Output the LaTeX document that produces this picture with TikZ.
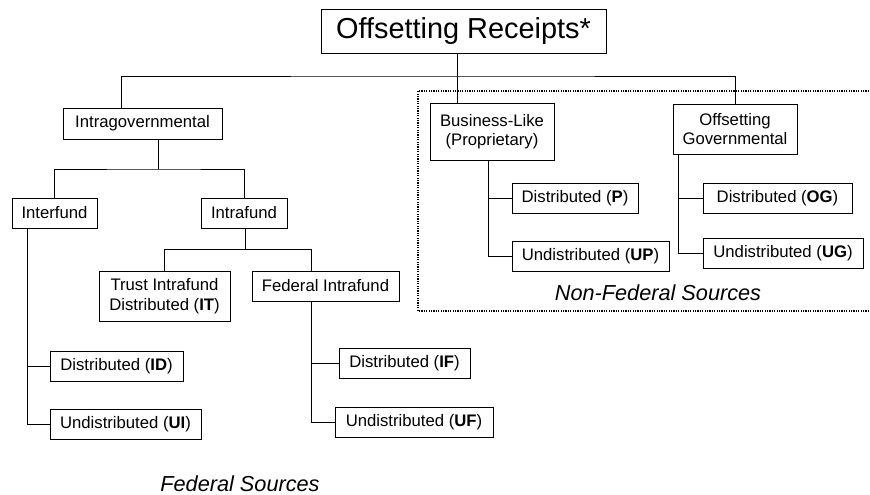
\documentclass[tikz,border=0pt]{standalone}
\usepackage{fontspec}
\setmainfont{Liberation Sans}
\begin{document}
\begin{tikzpicture}[x=1pt,y=-1pt,
  bx/.style={draw=black, line width=0.9pt, inner sep=0pt, align=center,
    font=\fontsize{16.7}{19.5}\selectfont},
  ln/.style={draw=black, line width=0.9pt},
  srclabel/.style={font=\fontsize{21.7}{24}\selectfont\itshape, inner sep=0pt},
  dotbox/.style={draw=black, line width=1.1pt, dash pattern=on 1.2pt off 1.2pt}]
\useasboundingbox (0,0) rectangle (870,495);
% boxes
\node[bx, minimum width=285, minimum height=44, font=\fontsize{28.9}{32}\selectfont] (title) at (463.5,31) {Offsetting Receipts*};
\node[bx, minimum width=159, minimum height=31] (intra) at (142.5,123.5) {Intragovernmental};
\node[bx, minimum width=85, minimum height=30] (interfund) at (54.5,213) {Interfund};
\node[bx, minimum width=86, minimum height=30] (intrafund) at (244,213) {Intrafund};
\node[bx, minimum width=131, minimum height=50] (trust) at (164.5,296) {Trust Intrafund\\Distributed (\textbf{IT})};
\node[bx, minimum width=147, minimum height=30] (fedintra) at (325.5,286) {Federal Intrafund};
\node[bx, minimum width=133, minimum height=30] (ID) at (116.5,366) {Distributed (\textbf{ID})};
\node[bx, minimum width=151, minimum height=30] (UI) at (125.5,424) {Undistributed (\textbf{UI})};
\node[bx, minimum width=131, minimum height=30] (IF) at (404.5,363) {Distributed (\textbf{IF})};
\node[bx, minimum width=158, minimum height=30] (UF) at (414,422) {Undistributed (\textbf{UF})};
\node[bx, minimum width=124, minimum height=57] (bus) at (492,131.5) {Business-Like\\(Proprietary)};
\node[bx, minimum width=126, minimum height=30] (P) at (575,198) {Distributed (\textbf{P})};
\node[bx, minimum width=157, minimum height=30] (UP) at (590.5,256) {Undistributed (\textbf{UP})};
\node[bx, minimum width=124, minimum height=50] (offgov) at (735,129) {Offsetting\\Governmental};
\node[bx, minimum width=149, minimum height=30] (OG) at (777.5,198) {Distributed (\textbf{OG})};
\node[bx, minimum width=160, minimum height=30] (UG) at (783,253) {Undistributed (\textbf{UG})};
% labels
\node[srclabel] (nfs) at (658,293) {Non-Federal Sources};
\node[srclabel] (fs) at (240,484) {Federal Sources};
% dotted region
\draw[dotbox] (869,91) -- (418,91) -- (418,311) -- (869,311);
% junction coordinates
\coordinate (jt) at (457,76);
\coordinate (jl) at (121,76);
\coordinate (h1) at (158,169);
\coordinate (h2) at (245,249);
\coordinate (fx) at (311,249);
\coordinate (ix) at (27,0);
\coordinate (bxx) at (488,0);
\coordinate (ox) at (678,0);
% connectors
\draw[ln] (title.south -| jt) -- (bus.north -| jt);
\draw[ln] (intra.north -| jl) -- (jl) -- (jt) -| (offgov.north);
\draw[ln] (intra.south -| h1) -- (h1);
\draw[ln] (interfund.north) |- (h1) -| (intrafund.north);
\draw[ln] (intrafund.south -| h2) -- (h2);
\draw[ln] (trust.north) |- (fx) -- (fx |- fedintra.north);
\draw[ln] (fx |- fedintra.south) -- (fx |- UF.west) -- (UF.west);
\draw[ln] (fx |- IF.west) -- (IF.west);
\draw[ln] (ix |- interfund.south) -- (ix |- UI.west) -- (UI.west);
\draw[ln] (ix |- ID.west) -- (ID.west);
\draw[ln] (bxx |- bus.south) -- (bxx |- UP.west) -- (UP.west);
\draw[ln] (bxx |- P.west) -- (P.west);
\draw[ln] (ox |- offgov.south) -- (ox |- UG.west) -- (UG.west);
\draw[ln] (ox |- OG.west) -- (OG.west);
\end{tikzpicture}
\end{document}
